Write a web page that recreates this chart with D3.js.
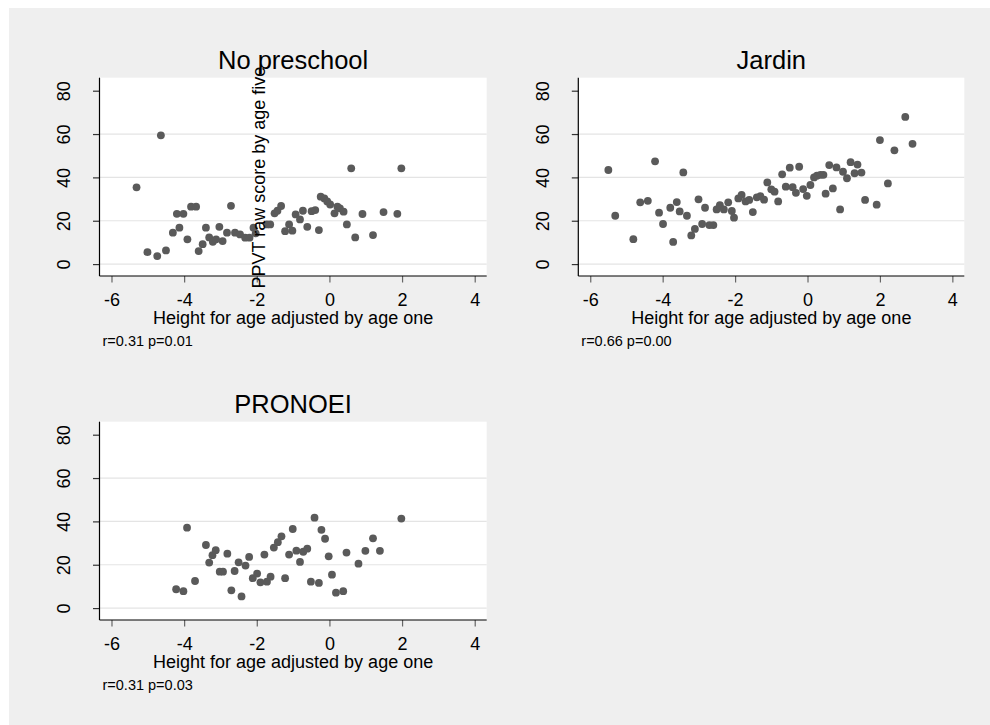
<!DOCTYPE html>
<html>
<head>
<meta charset="utf-8">
<script src="https://cdn.jsdelivr.net/npm/d3@7"></script>
<style>
  html, body { margin: 0; padding: 0; background: #ffffff; }
  svg { display: block; }
  text { font-family: "Liberation Sans", Arial, Helvetica, sans-serif; fill: #000; }
</style>
</head>
<body>
<script>
// ---------- DATA ----------
const panelTitles = ["No preschool", "Jardin", "PRONOEI"];
const panelNotes = ["r=0.31 p=0.01", "r=0.66 p=0.00", "r=0.31 p=0.03"];
const xTicks = [-6, -4, -2, 0, 2, 4];
const yTicks = [0, 20, 40, 60, 80];
const yGrid = [0, 20, 40, 60];
const xTitle = "Height for age adjusted by age one";
const yTitle = "PPVT raw score by age five";

const noPreschoolX = [-5.31,-4.64,-5.01,-4.74,-4.50,-4.31,-4.13,-4.20,-4.02,-3.91,-3.81,-3.67,-3.60,-3.49,-3.40,-3.31,-3.21,-3.12,-3.03,-2.94,-2.82,-2.71,-2.60,-2.46,-2.32,-2.20,-2.09,-2.03,-1.72,-1.63,-1.51,-1.43,-1.33,-1.22,-1.11,-1.02,-0.93,-0.81,-0.73,-0.61,-0.49,-0.39,-0.29,-0.24,-0.14,-0.06,0.02,0.14,0.22,0.29,0.39,0.48,0.60,0.71,0.91,1.20,1.49,1.87,1.98];
const noPreschoolY = [35.4,59.4,5.5,3.7,6.3,14.5,16.8,23.2,23.2,11.4,26.5,26.5,6.0,9.2,16.8,12.3,10.3,11.4,17.2,10.6,14.5,26.9,14.5,13.7,12.2,12.2,16.8,14.2,18.3,18.3,23.4,24.6,26.8,15.2,18.3,15.4,22.9,20.6,24.6,17.2,24.4,24.9,15.7,31.1,30.3,28.9,27.5,23.4,26.5,25.7,24.2,18.3,44.2,12.3,23.1,13.4,24.0,23.2,44.2];

const jardinX = [-5.50,-5.31,-4.81,-4.62,-4.41,-4.21,-4.10,-3.99,-3.79,-3.71,-3.61,-3.53,-3.43,-3.33,-3.21,-3.11,-3.01,-2.91,-2.83,-2.71,-2.60,-2.51,-2.42,-2.31,-2.19,-2.09,-2.03,-1.91,-1.82,-1.71,-1.61,-1.51,-1.40,-1.30,-1.20,-1.11,-1.00,-0.91,-0.81,-0.70,-0.60,-0.49,-0.41,-0.32,-0.23,-0.12,-0.02,0.08,0.18,0.26,0.36,0.44,0.50,0.60,0.70,0.80,0.90,0.98,1.09,1.19,1.30,1.38,1.49,1.59,1.91,2.00,2.22,2.40,2.70,2.90];
const jardinY = [43.4,22.3,11.5,28.5,29.2,47.4,23.7,18.5,26.0,10.2,28.6,24.3,42.3,22.3,13.2,16.2,29.9,18.5,26.0,18.0,18.0,25.2,27.2,25.2,28.5,24.5,21.4,30.3,31.9,28.9,29.6,24.0,30.8,31.3,29.7,37.7,34.5,33.4,28.9,41.4,35.7,44.5,35.5,32.9,44.9,34.6,31.5,36.5,40.0,40.8,41.2,41.2,32.5,45.7,34.9,44.6,25.2,42.6,39.6,47.0,41.9,45.9,42.2,29.6,27.4,57.2,37.2,52.5,67.9,55.5];

const pronoeiX = [-4.22,-4.02,-3.92,-3.70,-3.40,-3.31,-3.22,-3.13,-3.02,-2.93,-2.81,-2.70,-2.61,-2.50,-2.42,-2.31,-2.21,-2.11,-1.99,-1.90,-1.79,-1.72,-1.62,-1.53,-1.42,-1.32,-1.22,-1.11,-1.01,-0.91,-0.81,-0.72,-0.61,-0.51,-0.41,-0.29,-0.22,-0.12,-0.02,0.07,0.18,0.38,0.47,0.80,0.99,1.20,1.39,1.98];
const pronoeiY = [8.7,7.8,37.1,12.5,29.1,21.0,24.4,26.7,16.8,16.8,25.1,8.2,17.1,21.1,5.4,19.6,23.6,13.8,15.9,11.9,24.7,12.2,14.5,27.9,30.4,33.1,13.8,24.7,36.5,26.5,21.3,26.0,27.4,12.2,41.7,11.6,36.1,32.0,23.9,15.4,7.1,7.8,25.6,20.5,26.4,32.2,26.4,41.3];

// ---------- LAYOUT ----------
const W = 990, H = 725;
const bg = "#efefef";
const dotColor = "#5a5a5a";
const gridColor = "#e4e4e4";
const fmt = d => String(d);

const panels = [
  { title: panelTitles[0], note: panelNotes[0], xs: noPreschoolX, ys: noPreschoolY, left: 99.5, right: 486.7, top: 77.7, bottom: 276, yLabel: true },
  { title: panelTitles[1], note: panelNotes[1], xs: jardinX, ys: jardinY, left: 578.3, right: 964.3, top: 77.7, bottom: 276, yLabel: false },
  { title: panelTitles[2], note: panelNotes[2], xs: pronoeiX, ys: pronoeiY, left: 99.5, right: 486.7, top: 421.7, bottom: 620, yLabel: false }
];

const svg = d3.select("body").append("svg").attr("width", W).attr("height", H);
svg.append("rect").attr("x", 0).attr("y", 0).attr("width", W).attr("height", H).attr("fill", "#ffffff");
svg.append("rect").attr("x", 9).attr("y", 8).attr("width", W - 9).attr("height", H - 8).attr("fill", bg);

panels.forEach(p => {
  const x = d3.scaleLinear().domain([-6.33, 4.33]).range([p.left, p.right]);
  const y = d3.scaleLinear().domain([-5.5, 86]).range([p.bottom, p.top]);
  const g = svg.append("g");

  // plot region
  g.append("rect").attr("x", p.left).attr("y", p.top)
    .attr("width", p.right - p.left).attr("height", p.bottom - p.top).attr("fill", "#ffffff");

  // gridlines
  g.selectAll("line.grid").data(yGrid).enter().append("line")
    .attr("x1", p.left).attr("x2", p.right)
    .attr("y1", d => y(d)).attr("y2", d => y(d))
    .attr("stroke", gridColor).attr("stroke-width", 1.2);

  // points
  const pts = p.xs.map((v, i) => [v, p.ys[i]]);
  g.selectAll("circle").data(pts).enter().append("circle")
    .attr("cx", d => x(d[0])).attr("cy", d => y(d[1])).attr("r", 3.9)
    .attr("fill", dotColor);

  // x axis
  const xAxis = d3.axisBottom(x).tickValues(xTicks).tickSize(6.5).tickPadding(6).tickFormat(fmt);
  const xa = g.append("g").attr("transform", `translate(0,${p.bottom})`).call(xAxis);
  xa.select(".domain").remove();
  xa.selectAll(".tick line").attr("stroke", "#666").attr("stroke-width", 1.2);
  xa.selectAll(".tick text").attr("font-size", 18).attr("fill", "#000")
    .attr("font-family", '"Liberation Sans", Arial, sans-serif')
    .attr("dy", null).attr("y", 29.5);
  g.append("line").attr("x1", p.left).attr("x2", p.right).attr("y1", p.bottom).attr("y2", p.bottom)
    .attr("stroke", "#000").attr("stroke-width", 1.2);

  // y axis
  const yAxis = d3.axisLeft(y).tickValues(yTicks).tickSize(6.5).tickFormat(fmt);
  const ya = g.append("g").attr("transform", `translate(${p.left},0)`).call(yAxis);
  ya.select(".domain").remove();
  ya.selectAll(".tick line").attr("stroke", "#333").attr("stroke-width", 1.2);
  ya.selectAll(".tick text").attr("font-size", 18).attr("fill", "#000")
    .attr("font-family", '"Liberation Sans", Arial, sans-serif')
    .attr("x", null).attr("dy", null)
    .attr("text-anchor", "middle")
    .attr("transform", "translate(-29.5,0) rotate(-90)");
  g.append("line").attr("x1", p.left).attr("x2", p.left).attr("y1", p.top).attr("y2", p.bottom)
    .attr("stroke", "#000").attr("stroke-width", 1.2);

  // title
  g.append("text").attr("x", (p.left + p.right) / 2).attr("y", p.top - 8.5)
    .attr("text-anchor", "middle").attr("font-size", 25.5).text(p.title);

  // x title
  g.append("text").attr("x", (p.left + p.right) / 2).attr("y", p.bottom + 48)
    .attr("text-anchor", "middle").attr("font-size", 18).text(xTitle);

  // note
  g.append("text").attr("x", p.left + 3).attr("y", p.bottom + 70)
    .attr("font-size", 14.5).text(p.note);

  // misplaced y title (as in reference)
  if (p.yLabel) {
    g.append("text")
      .attr("transform", `translate(265,288.5) rotate(-90)`)
      .attr("text-anchor", "start").attr("font-size", 18).text(yTitle);
  }
});
</script>
</body>
</html>
